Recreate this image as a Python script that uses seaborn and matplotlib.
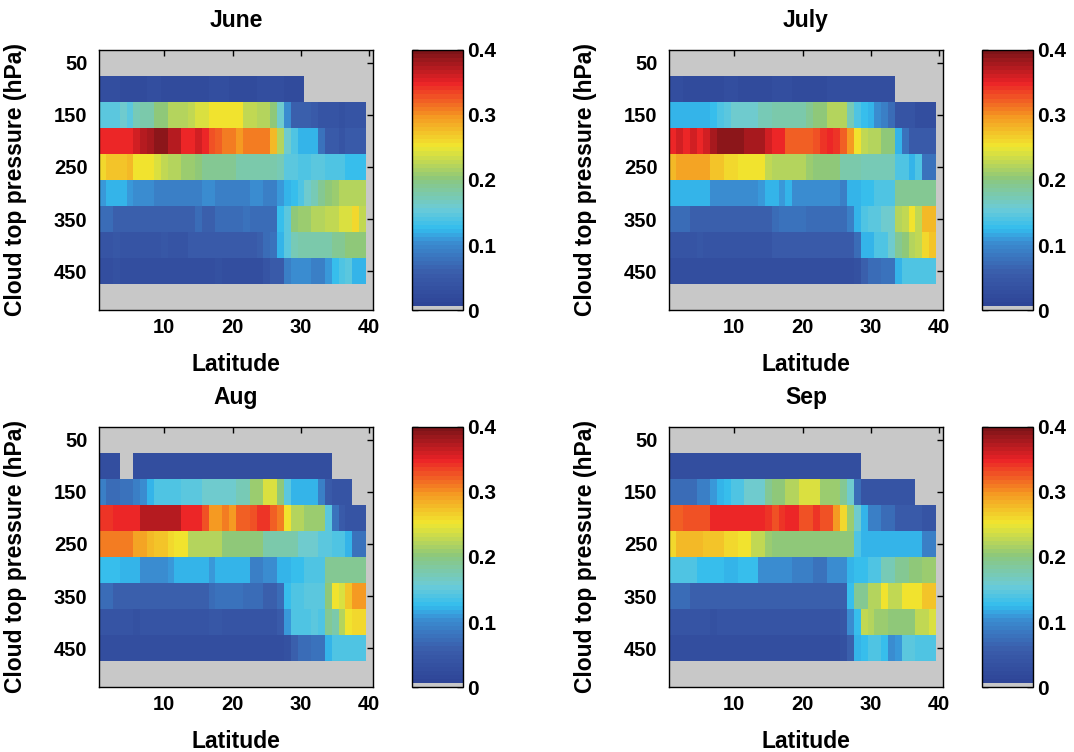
import numpy as np
import pandas as pd
import matplotlib
matplotlib.use("Agg")
import matplotlib.pyplot as plt
import seaborn as sns
from matplotlib.colors import ListedColormap, LinearSegmentedColormap

N = np.nan

MONTHS = ["June", "July", "Aug", "Sep"]
PRESSURE = [50, 100, 150, 200, 250, 300, 350, 400, 450, 500]
LATITUDE = list(range(1, 41))
PRESSURE_TICKS = [50, 150, 250, 350, 450]
LAT_TICKS = [10, 20, 30, 40]
CBAR_TICKS = [0, 0.1, 0.2, 0.3, 0.4]
CBAR_LABELS = ["0", "0.1", "0.2", "0.3", "0.4"]

# rows: 100 ... 450 hPa, columns: latitude 1 ... 39
JUNE = [
    [0.025, 0.025, 0.025, 0.020, 0.020, 0.020, 0.020, 0.030, 0.025, 0.020,
     0.020, 0.020, 0.020, 0.020, 0.020, 0.020, 0.030, 0.030, 0.025, 0.020,
     0.020, 0.020, 0.020, 0.025, 0.030, 0.025, 0.025, 0.020, 0.020, 0.020,
     N, N, N, N, N, N, N, N, N],
    [0.15, 0.15, 0.15, 0.16, 0.15, 0.17, 0.18, 0.18, 0.20, 0.20,
     0.22, 0.22, 0.22, 0.23, 0.24, 0.24, 0.25, 0.25, 0.25, 0.25,
     0.25, 0.23, 0.23, 0.22, 0.22, 0.20, 0.16, 0.10, 0.06, 0.06,
     0.06, 0.05, 0.04, 0.04, 0.04, 0.035, 0.04, 0.04, 0.04],
    [0.35, 0.35, 0.35, 0.35, 0.35, 0.36, 0.37, 0.38, 0.39, 0.39,
     0.37, 0.37, 0.35, 0.35, 0.36, 0.35, 0.33, 0.32, 0.31, 0.31,
     0.30, 0.31, 0.31, 0.31, 0.31, 0.28, 0.22, 0.16, 0.14, 0.12,
     0.12, 0.12, 0.08, 0.05, 0.05, 0.04, 0.05, 0.05, 0.05],
    [0.26, 0.27, 0.27, 0.27, 0.28, 0.25, 0.25, 0.25, 0.24, 0.23,
     0.22, 0.22, 0.21, 0.21, 0.20, 0.19, 0.19, 0.19, 0.19, 0.19,
     0.18, 0.18, 0.18, 0.18, 0.18, 0.18, 0.17, 0.15, 0.15, 0.14,
     0.14, 0.15, 0.15, 0.14, 0.14, 0.14, 0.13, 0.13, 0.13],
    [0.11, 0.12, 0.12, 0.12, 0.11, 0.10, 0.10, 0.10, 0.09, 0.09,
     0.09, 0.09, 0.09, 0.09, 0.09, 0.10, 0.10, 0.09, 0.09, 0.09,
     0.09, 0.09, 0.10, 0.10, 0.09, 0.09, 0.11, 0.12, 0.13, 0.14,
     0.16, 0.17, 0.19, 0.20, 0.21, 0.22, 0.22, 0.22, 0.22],
    [0.07, 0.07, 0.06, 0.06, 0.06, 0.06, 0.06, 0.06, 0.06, 0.06,
     0.06, 0.06, 0.06, 0.06, 0.07, 0.06, 0.06, 0.07, 0.07, 0.07,
     0.07, 0.08, 0.07, 0.07, 0.07, 0.07, 0.13, 0.15, 0.20, 0.21,
     0.21, 0.22, 0.22, 0.23, 0.23, 0.24, 0.24, 0.26, 0.23],
    [0.04, 0.04, 0.045, 0.04, 0.04, 0.04, 0.04, 0.04, 0.04, 0.045,
     0.04, 0.04, 0.04, 0.05, 0.05, 0.05, 0.05, 0.05, 0.05, 0.05,
     0.05, 0.05, 0.05, 0.06, 0.07, 0.08, 0.12, 0.15, 0.17, 0.18,
     0.18, 0.18, 0.18, 0.18, 0.19, 0.19, 0.20, 0.20, 0.20],
    [0.03, 0.03, 0.035, 0.03, 0.03, 0.03, 0.03, 0.03, 0.03, 0.03,
     0.03, 0.03, 0.03, 0.03, 0.03, 0.03, 0.03, 0.035, 0.03, 0.03,
     0.03, 0.03, 0.03, 0.03, 0.04, 0.05, 0.05, 0.09, 0.10, 0.10,
     0.10, 0.09, 0.09, 0.11, 0.13, 0.14, 0.15, 0.12, 0.12],
]

JULY = [
    [0.025, 0.025, 0.020, 0.020, 0.020, 0.020, 0.020, 0.020, 0.025, 0.025,
     0.020, 0.020, 0.020, 0.020, 0.020, 0.025, 0.025, 0.025, 0.020, 0.020,
     0.020, 0.020, 0.020, 0.025, 0.025, 0.025, 0.025, 0.025, 0.025, 0.025,
     0.025, 0.025, 0.025, N, N, N, N, N, N],
    [0.12, 0.12, 0.12, 0.12, 0.12, 0.12, 0.13, 0.14, 0.15, 0.16,
     0.16, 0.16, 0.16, 0.17, 0.17, 0.18, 0.18, 0.18, 0.18, 0.18,
     0.19, 0.20, 0.20, 0.22, 0.22, 0.22, 0.17, 0.14, 0.13, 0.12,
     0.10, 0.09, 0.07, 0.04, 0.04, 0.04, 0.03, 0.03, 0.03],
    [0.35, 0.36, 0.35, 0.36, 0.35, 0.36, 0.38, 0.39, 0.39, 0.39,
     0.39, 0.38, 0.38, 0.38, 0.36, 0.35, 0.35, 0.32, 0.32, 0.32,
     0.32, 0.33, 0.34, 0.35, 0.34, 0.32, 0.30, 0.25, 0.23, 0.22,
     0.22, 0.20, 0.20, 0.12, 0.08, 0.05, 0.05, 0.05, 0.05],
    [0.28, 0.29, 0.29, 0.29, 0.29, 0.29, 0.27, 0.27, 0.26, 0.26,
     0.25, 0.25, 0.25, 0.25, 0.23, 0.22, 0.22, 0.22, 0.22, 0.22,
     0.21, 0.20, 0.20, 0.20, 0.20, 0.18, 0.18, 0.18, 0.17, 0.17,
     0.17, 0.17, 0.17, 0.14, 0.14, 0.12, 0.14, 0.08, 0.08],
    [0.12, 0.12, 0.12, 0.12, 0.12, 0.12, 0.10, 0.10, 0.10, 0.10,
     0.10, 0.10, 0.10, 0.11, 0.12, 0.12, 0.11, 0.12, 0.10, 0.10,
     0.10, 0.10, 0.10, 0.10, 0.10, 0.09, 0.12, 0.12, 0.13, 0.13,
     0.14, 0.14, 0.14, 0.19, 0.19, 0.19, 0.19, 0.19, 0.19],
    [0.07, 0.07, 0.07, 0.06, 0.06, 0.06, 0.06, 0.06, 0.06, 0.06,
     0.06, 0.06, 0.06, 0.06, 0.06, 0.07, 0.08, 0.08, 0.08, 0.08,
     0.07, 0.07, 0.07, 0.07, 0.07, 0.07, 0.09, 0.12, 0.14, 0.15,
     0.15, 0.16, 0.16, 0.22, 0.23, 0.25, 0.23, 0.28, 0.28],
    [0.04, 0.04, 0.04, 0.04, 0.045, 0.04, 0.04, 0.04, 0.04, 0.04,
     0.04, 0.04, 0.04, 0.04, 0.04, 0.05, 0.05, 0.05, 0.05, 0.05,
     0.05, 0.05, 0.05, 0.05, 0.05, 0.05, 0.05, 0.07, 0.12, 0.12,
     0.14, 0.14, 0.16, 0.19, 0.20, 0.22, 0.23, 0.26, 0.27],
    [0.03, 0.03, 0.03, 0.03, 0.03, 0.025, 0.025, 0.025, 0.03, 0.03,
     0.03, 0.03, 0.03, 0.03, 0.03, 0.03, 0.03, 0.03, 0.03, 0.03,
     0.03, 0.03, 0.03, 0.03, 0.03, 0.03, 0.03, 0.035, 0.06, 0.07,
     0.07, 0.08, 0.08, 0.12, 0.14, 0.14, 0.14, 0.14, 0.14],
]

AUG = [
    [0.025, 0.025, 0.025, N, N, 0.025, 0.025, 0.025, 0.025, 0.025,
     0.025, 0.025, 0.025, 0.025, 0.025, 0.025, 0.025, 0.025, 0.025, 0.025,
     0.025, 0.025, 0.025, 0.025, 0.025, 0.030, 0.030, 0.025, 0.025, 0.025,
     0.025, 0.025, 0.025, 0.025, N, N, N, N, N],
    [0.09, 0.07, 0.07, 0.08, 0.08, 0.09, 0.10, 0.12, 0.14, 0.14,
     0.14, 0.14, 0.15, 0.15, 0.15, 0.16, 0.16, 0.16, 0.16, 0.16,
     0.17, 0.17, 0.21, 0.21, 0.24, 0.24, 0.20, 0.15, 0.12, 0.12,
     0.12, 0.12, 0.09, 0.05, 0.04, 0.04, 0.04, N, N],
    [0.34, 0.34, 0.35, 0.35, 0.35, 0.35, 0.37, 0.37, 0.37, 0.37,
     0.37, 0.37, 0.35, 0.35, 0.35, 0.33, 0.30, 0.30, 0.31, 0.30,
     0.32, 0.32, 0.33, 0.34, 0.34, 0.32, 0.31, 0.25, 0.22, 0.22,
     0.21, 0.21, 0.21, 0.15, 0.08, 0.05, 0.04, 0.04, 0.04],
    [0.31, 0.31, 0.31, 0.31, 0.31, 0.29, 0.29, 0.28, 0.27, 0.27,
     0.26, 0.25, 0.25, 0.22, 0.22, 0.22, 0.22, 0.22, 0.20, 0.20,
     0.20, 0.20, 0.20, 0.20, 0.18, 0.18, 0.18, 0.18, 0.18, 0.16,
     0.16, 0.16, 0.15, 0.15, 0.14, 0.14, 0.12, 0.08, 0.08],
    [0.13, 0.13, 0.13, 0.12, 0.12, 0.12, 0.10, 0.10, 0.10, 0.10,
     0.11, 0.12, 0.12, 0.12, 0.12, 0.12, 0.11, 0.12, 0.12, 0.12,
     0.12, 0.12, 0.09, 0.09, 0.10, 0.10, 0.12, 0.12, 0.13, 0.13,
     0.14, 0.14, 0.14, 0.19, 0.19, 0.19, 0.19, 0.19, 0.19],
    [0.07, 0.07, 0.06, 0.06, 0.06, 0.06, 0.06, 0.06, 0.06, 0.06,
     0.06, 0.06, 0.06, 0.06, 0.06, 0.06, 0.07, 0.08, 0.08, 0.08,
     0.08, 0.07, 0.07, 0.07, 0.06, 0.06, 0.07, 0.13, 0.14, 0.14,
     0.15, 0.15, 0.15, 0.20, 0.25, 0.24, 0.27, 0.30, 0.30],
    [0.04, 0.04, 0.04, 0.04, 0.04, 0.035, 0.04, 0.04, 0.04, 0.04,
     0.04, 0.04, 0.04, 0.04, 0.04, 0.04, 0.045, 0.045, 0.04, 0.04,
     0.04, 0.04, 0.04, 0.04, 0.04, 0.04, 0.05, 0.11, 0.14, 0.14,
     0.14, 0.15, 0.14, 0.19, 0.18, 0.22, 0.25, 0.26, 0.26],
    [0.03, 0.03, 0.03, 0.03, 0.03, 0.03, 0.03, 0.03, 0.03, 0.03,
     0.03, 0.03, 0.03, 0.03, 0.03, 0.03, 0.03, 0.03, 0.03, 0.03,
     0.03, 0.03, 0.03, 0.03, 0.03, 0.03, 0.03, 0.035, 0.06, 0.07,
     0.07, 0.08, 0.08, 0.12, 0.14, 0.14, 0.14, 0.14, 0.14],
]

SEP = [
    [0.025, 0.025, 0.025, 0.025, 0.025, 0.025, 0.025, 0.025, 0.025, 0.025,
     0.025, 0.025, 0.025, 0.025, 0.025, 0.025, 0.025, 0.025, 0.025, 0.025,
     0.025, 0.025, 0.025, 0.030, 0.025, 0.025, 0.025, 0.025,
     N, N, N, N, N, N, N, N, N, N, N],
    [0.07, 0.07, 0.07, 0.07, 0.09, 0.09, 0.11, 0.12, 0.13, 0.14,
     0.14, 0.16, 0.16, 0.16, 0.19, 0.20, 0.20, 0.22, 0.22, 0.24,
     0.24, 0.24, 0.21, 0.21, 0.21, 0.19, 0.16, 0.07, 0.04, 0.04,
     0.04, 0.04, 0.04, 0.04, 0.04, 0.04, N, N, N],
    [0.32, 0.32, 0.33, 0.33, 0.33, 0.33, 0.35, 0.35, 0.35, 0.35,
     0.35, 0.35, 0.35, 0.35, 0.34, 0.33, 0.34, 0.35, 0.35, 0.33,
     0.33, 0.34, 0.33, 0.33, 0.30, 0.26, 0.21, 0.16, 0.12, 0.09,
     0.09, 0.07, 0.07, 0.05, 0.05, 0.05, 0.05, 0.04, 0.04],
    [0.26, 0.28, 0.28, 0.28, 0.28, 0.27, 0.27, 0.27, 0.26, 0.26,
     0.25, 0.25, 0.23, 0.23, 0.21, 0.20, 0.20, 0.20, 0.20, 0.20,
     0.20, 0.20, 0.20, 0.20, 0.20, 0.20, 0.20, 0.14, 0.12, 0.12,
     0.12, 0.12, 0.12, 0.12, 0.12, 0.12, 0.12, 0.09, 0.09],
    [0.14, 0.14, 0.14, 0.14, 0.13, 0.13, 0.13, 0.13, 0.12, 0.12,
     0.13, 0.13, 0.13, 0.10, 0.10, 0.10, 0.10, 0.10, 0.09, 0.09,
     0.09, 0.08, 0.08, 0.10, 0.10, 0.10, 0.12, 0.13, 0.13, 0.14,
     0.14, 0.17, 0.17, 0.19, 0.19, 0.20, 0.20, 0.21, 0.21],
    [0.07, 0.07, 0.07, 0.06, 0.06, 0.06, 0.06, 0.06, 0.06, 0.06,
     0.06, 0.06, 0.06, 0.06, 0.06, 0.06, 0.06, 0.06, 0.06, 0.06,
     0.06, 0.06, 0.06, 0.06, 0.06, 0.06, 0.13, 0.19, 0.19, 0.22,
     0.22, 0.25, 0.23, 0.23, 0.25, 0.25, 0.25, 0.27, 0.27],
    [0.04, 0.04, 0.04, 0.04, 0.04, 0.04, 0.035, 0.04, 0.04, 0.04,
     0.04, 0.04, 0.04, 0.04, 0.04, 0.04, 0.04, 0.04, 0.04, 0.04,
     0.04, 0.04, 0.04, 0.04, 0.04, 0.045, 0.10, 0.13, 0.23, 0.22,
     0.21, 0.21, 0.20, 0.20, 0.20, 0.20, 0.23, 0.23, 0.24],
    [0.03, 0.03, 0.03, 0.03, 0.03, 0.03, 0.03, 0.03, 0.03, 0.03,
     0.03, 0.03, 0.03, 0.03, 0.03, 0.03, 0.03, 0.03, 0.03, 0.03,
     0.03, 0.03, 0.03, 0.03, 0.03, 0.035, 0.06, 0.12, 0.13, 0.14,
     0.14, 0.13, 0.10, 0.11, 0.15, 0.15, 0.14, 0.14, 0.14],
]

MONTH_DATA = {"June": JUNE, "July": JULY, "Aug": AUG, "Sep": SEP}


def build_frame(rows):
    grid = np.full((len(PRESSURE), len(LATITUDE)), np.nan)
    for i, row in enumerate(rows):
        assert len(row) == 39
        grid[i + 1, :39] = row
    return pd.DataFrame(grid, index=PRESSURE, columns=LATITUDE)


# printed-jet colour map, lowest level grey (no data)
anchors = [
    (0.000, "#2e4597"), (0.125, "#3a5dab"), (0.25, "#3a90d4"),
    (0.30, "#33bdee"), (0.375, "#6bcbd8"), (0.50, "#8dc77a"),
    (0.625, "#f1e72f"), (0.75, "#f59421"), (0.875, "#ec2227"),
    (1.000, "#7e1418"),
]
base = LinearSegmentedColormap.from_list("pjet", anchors)
GREY = "#c8c8c8"
colors = [GREY] + [base(v) for v in np.linspace(0, 1, 63)]
cmap = ListedColormap(colors)

sns.set_style("white")
plt.rcParams["font.family"] = ["Liberation Sans", "DejaVu Sans"]
plt.rcParams["font.weight"] = "bold"
plt.rcParams["text.color"] = "black"
plt.rcParams["axes.labelcolor"] = "black"
plt.rcParams["xtick.color"] = "black"
plt.rcParams["ytick.color"] = "black"

W, H = 1074, 752
fig = plt.figure(figsize=(W / 100, H / 100), dpi=100)

AX_W, AX_H = 273.4, 260.5
CB_DX, CB_W = 312.2, 51.0
POS = {"June": (99.3, 49.7), "July": (669.3, 49.7),
       "Aug": (99.3, 426.7), "Sep": (669.3, 426.7)}

for month in MONTHS:
    x0, y0 = POS[month]
    ax = fig.add_axes([x0 / W, 1 - (y0 + AX_H) / H, AX_W / W, AX_H / H])
    cax = fig.add_axes([(x0 + CB_DX) / W, 1 - (y0 + AX_H) / H, CB_W / W, AX_H / H])
    ax.set_facecolor(GREY)
    df = build_frame(MONTH_DATA[month])
    sns.heatmap(df, ax=ax, cbar_ax=cax, cmap=cmap, vmin=0, vmax=0.4,
                xticklabels=False, yticklabels=False,
                cbar_kws={"ticks": CBAR_TICKS})
    ax.set_facecolor(GREY)
    ax.set_xlim(0, len(LATITUDE))
    ax.set_ylim(len(PRESSURE), 0)
    ax.set_xticks([LATITUDE.index(l) + 0.5 for l in LAT_TICKS])
    ax.set_xticklabels([str(l) for l in LAT_TICKS])
    ax.set_yticks([PRESSURE.index(p) + 0.5 for p in PRESSURE_TICKS])
    ax.set_yticklabels([str(p) for p in PRESSURE_TICKS], rotation=0)
    for s in ax.spines.values():
        s.set_visible(True)
        s.set_color("black")
        s.set_linewidth(1.0)
    ax.tick_params(axis="both", direction="in", top=True, right=True,
                   length=4, width=1, labelsize=14.5, colors="black")
    ax.tick_params(axis="x", pad=5.5)
    ax.tick_params(axis="y", pad=8.5)
    for lab in ax.get_xticklabels() + ax.get_yticklabels():
        lab.set_fontweight("bold")
        lab.set_color("black")

    ax.set_xlabel("Latitude", fontsize=16.5, fontweight="bold", color="black")
    ax.xaxis.set_label_coords(0.5, -0.207)
    ax.xaxis.label.set_va("center")
    ax.set_ylabel("Cloud top pressure (hPa)", fontsize=16.5, fontweight="bold",
                  color="black")
    ax.yaxis.set_label_coords(-0.308, 0.5)
    ax.yaxis.label.set_va("center")
    ax.set_title(month, fontsize=16.5, fontweight="bold", y=1.114,
                 va="center", pad=0, color="black")

    cb = ax.collections[0].colorbar
    cb.outline.set_linewidth(1.0)
    cb.outline.set_edgecolor("black")
    cax.yaxis.set_ticks_position("both")
    cax.tick_params(direction="in", length=4, width=1, labelsize=15,
                    pad=3, left=True, right=True, labelleft=False,
                    labelright=True, colors="black")
    cb.set_ticks(CBAR_TICKS)
    cb.set_ticklabels(CBAR_LABELS)
    for lab in cax.get_yticklabels():
        lab.set_fontweight("bold")
        lab.set_color("black")

fig.savefig("out.png", dpi=100)
